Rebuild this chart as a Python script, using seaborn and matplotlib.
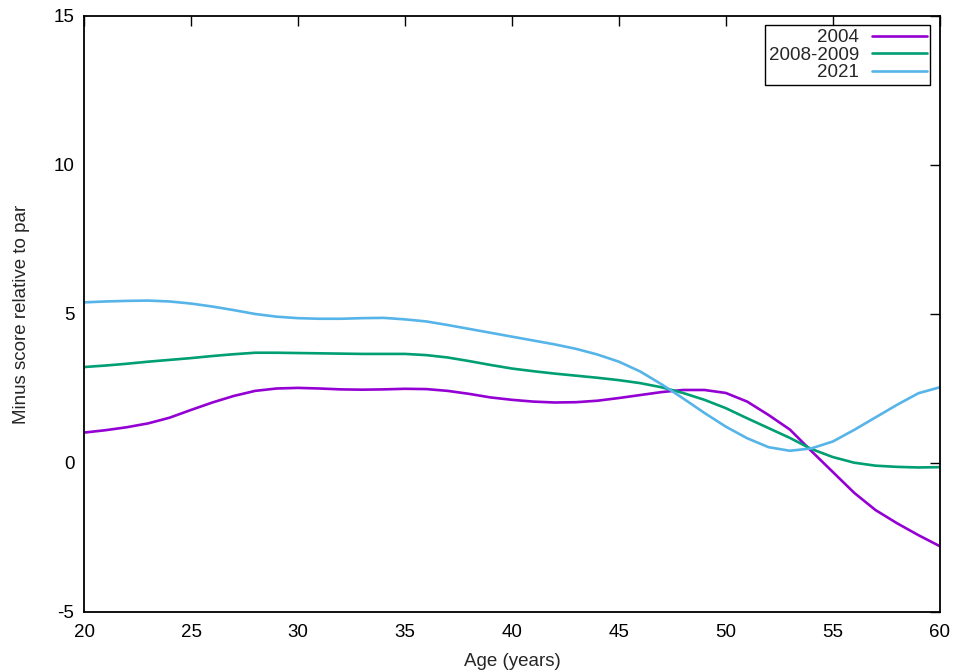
import numpy as np
import pandas as pd
import matplotlib
matplotlib.use("Agg")
import matplotlib.pyplot as plt
import seaborn as sns

# ==========================
#  Data
# ==========================
ages = list(range(20, 61))

score_2004 = [1.02, 1.10, 1.20, 1.33, 1.52, 1.78, 2.03, 2.25, 2.42, 2.50,
              2.52, 2.50, 2.47, 2.46, 2.47, 2.49, 2.48, 2.42, 2.32, 2.20,
              2.12, 2.06, 2.03, 2.04, 2.09, 2.18, 2.28, 2.38, 2.45, 2.45,
              2.35, 2.06, 1.61, 1.12, 0.40, -0.30, -1.00, -1.58, -2.02, -2.42,
              -2.79]

score_2008 = [3.22, 3.27, 3.33, 3.40, 3.46, 3.52, 3.59, 3.65, 3.70, 3.70,
              3.69, 3.68, 3.67, 3.66, 3.66, 3.66, 3.62, 3.54, 3.42, 3.29,
              3.17, 3.08, 3.00, 2.93, 2.86, 2.78, 2.68, 2.54, 2.35, 2.12,
              1.84, 1.50, 1.17, 0.84, 0.47, 0.20, 0.01, -0.09, -0.13, -0.15,
              -0.14]

score_2021 = [5.39, 5.42, 5.44, 5.45, 5.42, 5.35, 5.25, 5.13, 5.00, 4.91,
              4.86, 4.84, 4.84, 4.86, 4.87, 4.82, 4.75, 4.63, 4.50, 4.37,
              4.24, 4.11, 3.98, 3.83, 3.64, 3.40, 3.07, 2.64, 2.17, 1.68,
              1.22, 0.83, 0.53, 0.41, 0.49, 0.72, 1.11, 1.53, 1.95, 2.34,
              2.54]

series_names = ["2004", "2008-2009", "2021"]
colors = ["#9400d3", "#009e73", "#56b4e9"]

df = pd.concat([
    pd.DataFrame({"Age": ages, "Score": vals, "Period": name})
    for name, vals in zip(series_names, [score_2004, score_2008, score_2021])
])

# ==========================
#  Style
# ==========================
sns.set_style("white")
plt.rcParams["font.family"] = ["Liberation Sans", "DejaVu Sans"]
plt.rcParams["font.size"] = 13.5
plt.rcParams["axes.unicode_minus"] = False

fig = plt.figure(figsize=(9.55, 6.72), dpi=100)
ax = fig.add_axes([0.088, 0.0893, 0.896, 0.8869])

sns.lineplot(data=df, x="Age", y="Score", hue="Period",
             palette=dict(zip(series_names, colors)),
             linewidth=1.9, ax=ax)

ax.set_xlim(20, 60)
ax.set_ylim(-5, 15)
ax.set_xticks(range(20, 61, 5))
ax.set_yticks(range(-5, 16, 5))
ax.set_xlabel("Age (years)", labelpad=8)
ax.set_ylabel("Minus score relative to par", labelpad=17)

for s in ax.spines.values():
    s.set_color("black")
    s.set_linewidth(1.3)
ax.tick_params(direction="in", length=7, width=1, color="black",
               top=True, right=True, labelcolor="black")
ax.tick_params(axis="x", pad=9)
ax.tick_params(axis="y", pad=7)

# legend: labels on the left, right aligned, line samples on the right
leg = ax.legend(loc="upper right", markerfirst=False, fancybox=False,
                edgecolor="black", framealpha=1, handlelength=2.9,
                borderaxespad=0.5, labelspacing=0.02, borderpad=0.2,
                handletextpad=0.7)
leg.get_frame().set_linewidth(1.0)

fig.savefig("out.png", dpi=100)
